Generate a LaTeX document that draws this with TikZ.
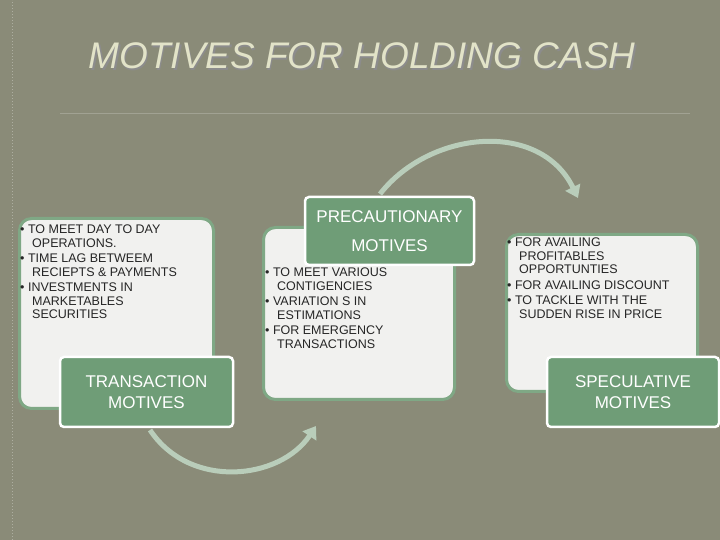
\documentclass[tikz,border=0pt]{standalone}
\usepackage{fontspec}
\setmainfont{Liberation Sans}
\usetikzlibrary{arrows.meta}
\definecolor{bg}{HTML}{8A8B78}
\definecolor{gr}{HTML}{6F9D77}
\definecolor{grb}{HTML}{7FA885}
\definecolor{wb}{HTML}{F1F1EF}
\definecolor{arc}{HTML}{B9CDBA}
\definecolor{ttl}{HTML}{E2E3C8}
\tikzset{
 wbox/.style={draw=grb,line width=3pt,fill=wb,rounded corners=12pt,anchor=north west,inner sep=0pt},
 gbox/.style={draw=white,line width=2.5pt,fill=gr,rounded corners=4pt,text=white,font=\fontsize{17}{21}\selectfont,align=center,inner sep=0pt},
 btxt/.style={anchor=north west,font=\fontsize{12.5}{15.5}\selectfont,align=left,inner sep=0pt,text=black!85},
 arcl/.style={draw=arc,line width=5pt,-{Triangle[length=12pt,width=16pt]}}
}
\begin{document}
\begin{tikzpicture}[x=1pt,y=1pt]
\fill[bg] (0,0) rectangle (720,540);
\useasboundingbox (0,0) rectangle (720,540);
\draw[bg!70!white,dotted,line width=1pt] (12,0) -- (12,540);
\node (ttlsh) at (363.5,482.5) {\fontsize{37}{40}\selectfont\itshape\color{black!45}MOTIVES FOR HOLDING CASH};
\node (ttl) at (362,484) {\fontsize{37}{40}\selectfont\itshape\color{ttl}MOTIVES FOR HOLDING CASH};
\coordinate (l1) at (60,427); \coordinate (l2) at (690,427);
\draw[bg!80!white,line width=0.6pt] (l1) -- (l2);
% arcs
\coordinate (a1) at (380,346); \coordinate (a2) at (578,342);
\draw[arcl] (a1) .. controls (430,410) and (540,420) .. (a2);
\coordinate (b1) at (150,110); \coordinate (b2) at (316,114);
\draw[arcl] (b1) .. controls (190,50) and (280,60) .. (b2);
% left
\node[wbox,minimum width=194pt,minimum height=190pt] (w1) at (18,323) {};
\node[btxt] (t1) at (20,315) {\textbullet\ TO MEET DAY TO DAY\\[-2pt]\hspace*{12pt}OPERATIONS.\\\textbullet\ TIME LAG BETWEEM\\[-2pt]\hspace*{12pt}RECIEPTS \& PAYMENTS\\\textbullet\ INVESTMENTS IN\\[-2pt]\hspace*{12pt}MARKETABLES\\[-2pt]\hspace*{12pt}SECURITIES};
\node[gbox,minimum width=173pt,minimum height=70pt] (g1) at (146.5,148) {TRANSACTION\\MOTIVES};
% middle
\node[wbox,minimum width=191pt,minimum height=172pt] (w2) at (262,314) {};
\node[btxt] (t2) at (265,272) {\textbullet\ TO MEET VARIOUS\\[-2pt]\hspace*{12pt}CONTIGENCIES\\\textbullet\ VARIATION S IN\\[-2pt]\hspace*{12pt}ESTIMATIONS\\\textbullet\ FOR EMERGENCY\\[-2pt]\hspace*{12pt}TRANSACTIONS};
\node[gbox,minimum width=169pt,minimum height=68pt,font=\fontsize{17}{29}\selectfont] (g2) at (389.5,309) {PRECAUTIONARY\\MOTIVES};
% right
\node[wbox,minimum width=191pt,minimum height=157pt] (w3) at (505,307) {};
\node[btxt] (t3) at (507,302) {\textbullet\ FOR AVAILING\\[-2pt]\hspace*{12pt}PROFITABLES\\[-2pt]\hspace*{12pt}OPPORTUNTIES\\\textbullet\ FOR AVAILING DISCOUNT\\\textbullet\ TO TACKLE WITH THE\\[-2pt]\hspace*{12pt}SUDDEN RISE IN PRICE};
\node[gbox,minimum width=172pt,minimum height=70pt] (g3) at (633,148) {SPECULATIVE\\MOTIVES};
\end{tikzpicture}
\end{document}
